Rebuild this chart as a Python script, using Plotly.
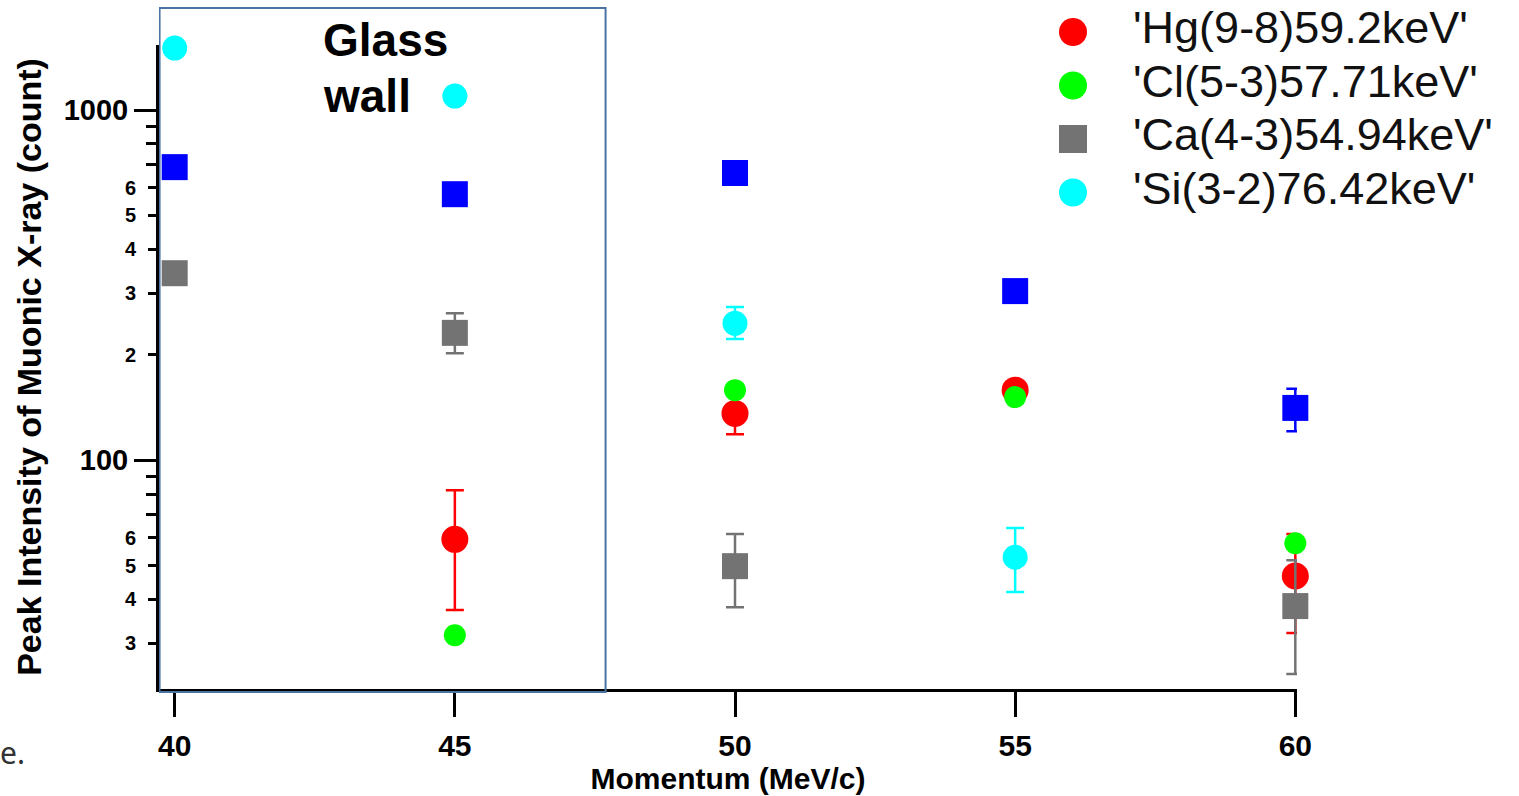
import math
import plotly.graph_objects as go

# ---- data -------------------------------------------------------------
momentum = [40, 45, 50, 55, 60]

# blue squares (series without a visible legend entry)
blue_x = [40, 45, 50, 55, 60]
blue_y = [687, 575, 661, 304, 141]
blue_err_plus = [0, 0, 0, 0, 19]
blue_err_minus = [0, 0, 0, 0, 20]

hg_name = "'Hg(9-8)59.2keV'"
hg_x = [45, 50, 55, 60]
hg_y = [59.4, 136, 158.5, 46.7]
hg_err_plus = [22.6, 19, 0, 14.8]
hg_err_minus = [22.1, 17.4, 0, 14.6]

cl_name = "'Cl(5-3)57.71keV'"
cl_x = [45, 50, 55, 60]
cl_y = [31.6, 158.5, 151.4, 57.9]

ca_name = "'Ca(4-3)54.94keV'"
ca_x = [40, 45, 50, 60]
ca_y = [342, 231, 49.8, 38.3]
ca_err_plus = [0, 32, 11.7, 13.5]
ca_err_minus = [0, 29, 11.8, 13.8]

si_name = "'Si(3-2)76.42keV'"
si_x = [40, 45, 50, 55]
si_y = [1503, 1096, 246, 52.8]
si_err_plus = [0, 0, 28, 11.2]
si_err_minus = [0, 0, 24, 10.8]

# y tick marks
major_ticks = [100, 1000]
major_labels = ["100", "1000"]
small_ticks = [30, 40, 50, 60, 200, 300, 400, 500, 600]
small_labels = ["3", "4", "5", "6", "2", "3", "4", "5", "6"]
unlabeled_ticks = [70, 80, 90, 700, 800, 900]

legend_names = [hg_name, cl_name, ca_name, si_name]
legend_colors = ["#ff0000", "#00ff00", "#737373", "#00ffff"]
legend_symbols = ["circle", "circle", "square", "circle"]

# ---- geometry & styling -----------------------------------------------
FONT = "Liberation Sans, Arial, sans-serif"
BLUE, RED, GREEN, GRAY, CYAN = "#0000ff", "#ff0000", "#00ff00", "#737373", "#00ffff"
Y_RANGE = [math.log10(22.2), math.log10(1534)]
X_RANGE = [39.72, 60.03]

W, H = 1519, 796
M_LEFT, M_BOTTOM = 159, 107             # paper area spans to the top/right edges
PAPER_W, PAPER_H = W - M_LEFT, H - M_BOTTOM
plot_top_px, plot_right_px = 45, 1297   # main axes box inside the paper area


def px_x(px):
    return (px - M_LEFT) / PAPER_W


def px_y(py):
    return (PAPER_H - py) / PAPER_H


main_xdom = [0, px_x(plot_right_px)]
main_ydom = [0, px_y(plot_top_px)]


def err(plus, minus, color):
    return dict(type="data", array=plus, arrayminus=minus, color=color,
                thickness=2.5, width=9, visible=True)


fig = go.Figure()

fig.add_trace(go.Scatter(
    x=blue_x, y=blue_y, mode="markers", showlegend=False, cliponaxis=False,
    marker=dict(symbol="square", size=26, color=BLUE),
    error_y=err(blue_err_plus, blue_err_minus, BLUE)))

fig.add_trace(go.Scatter(
    x=hg_x, y=hg_y, mode="markers", name=hg_name, showlegend=False, cliponaxis=False,
    marker=dict(symbol="circle", size=27, color=RED),
    error_y=err(hg_err_plus, hg_err_minus, RED)))

fig.add_trace(go.Scatter(
    x=cl_x, y=cl_y, mode="markers", name=cl_name, showlegend=False, cliponaxis=False,
    marker=dict(symbol="circle", size=22, color=GREEN)))

fig.add_trace(go.Scatter(
    x=ca_x, y=ca_y, mode="markers", name=ca_name, showlegend=False, cliponaxis=False,
    marker=dict(symbol="square", size=26, color=GRAY),
    error_y=err(ca_err_plus, ca_err_minus, GRAY)))

# Si series sits on the overlaid axis carrying the small tick labels
fig.add_trace(go.Scatter(
    x=si_x, y=si_y, mode="markers", name=si_name, showlegend=False, cliponaxis=False,
    yaxis="y2",
    marker=dict(symbol="circle", size=25, color=CYAN),
    error_y=err(si_err_plus, si_err_minus, CYAN)))

# ---- legend drawn on its own hidden axes (large symbols) --------------
rows = list(range(len(legend_names)))
row_px0, row_step = 32, 53.5           # first row centre and row spacing (px)
marker_px, text_px = 1073, 1133
leg_ydom = [px_y(260), 1.0]
leg_xdom = [px_x(1000), 1.0]
leg_yrange = [(260 - row_px0) / row_step, (0 - row_px0) / row_step]
step_x = text_px - marker_px
leg_xrange = [(1000 - marker_px) / step_x, (W - marker_px) / step_x]

fig.add_trace(go.Scatter(
    x=[0] * len(rows), y=rows, mode="markers", showlegend=False, cliponaxis=False,
    xaxis="x3", yaxis="y3", hoverinfo="skip",
    marker=dict(symbol=legend_symbols, color=legend_colors, size=28)))
fig.add_trace(go.Scatter(
    x=[1] * len(rows), y=rows, mode="text", text=legend_names, showlegend=False,
    cliponaxis=False, xaxis="x3", yaxis="y3", hoverinfo="skip",
    textposition="middle right",
    textfont=dict(family=FONT, size=45, color="#111111")))

axis_common = dict(showgrid=False, zeroline=False, ticks="outside",
                   tickcolor="black", tickwidth=3)

fig.update_layout(
    width=W, height=H,
    margin=dict(l=M_LEFT, r=0, t=0, b=M_BOTTOM, autoexpand=False),
    paper_bgcolor="white", plot_bgcolor="rgba(0,0,0,0)",
    font=dict(family=FONT, color="black"),
    xaxis=dict(
        **axis_common, domain=main_xdom, range=X_RANGE, tickvals=momentum,
        ticklen=25, ticklabelstandoff=3,
        showline=True, linewidth=3, linecolor="black",
        tickfont=dict(family=FONT, size=30, weight="bold"),
        title=dict(text="Momentum (MeV/c)", standoff=4,
                   font=dict(family=FONT, size=30, weight="bold")),
    ),
    yaxis=dict(
        **axis_common, domain=main_ydom, type="log", range=Y_RANGE,
        tickvals=major_ticks, ticktext=major_labels, ticklen=22,
        showline=True, linewidth=3, linecolor="black",
        tickfont=dict(family=FONT, size=29, weight="bold"),
        minor=dict(tickvals=unlabeled_ticks, ticks="outside", ticklen=10,
                   tickwidth=3, tickcolor="black", showgrid=False),
        title=dict(text="Peak Intensity of Muonic X-ray (count)", standoff=12,
                   font=dict(family=FONT, size=34, weight="bold")),
    ),
    yaxis2=dict(
        **axis_common, type="log", range=Y_RANGE, overlaying="y", side="left",
        anchor="x", tickvals=small_ticks, ticktext=small_labels, ticklen=10,
        ticklabelstandoff=8,
        showline=False, tickfont=dict(family=FONT, size=20, weight="bold"),
    ),
    xaxis3=dict(domain=leg_xdom, anchor="y3", range=leg_xrange, visible=False),
    yaxis3=dict(domain=leg_ydom, anchor="x3", range=leg_yrange, visible=False),
)

# Glass wall region
fig.add_shape(type="rect", xref="x", yref="paper",
              x0=39.73, x1=47.69, y0=px_y(692), y1=px_y(8),
              line=dict(color="#4a73a3", width=2), layer="above")

wall_font = dict(family=FONT, size=46, weight="bold", color="black")
fig.add_annotation(
    text="Glass", xref="x", yref="paper", x=42.62, y=px_y(40),
    xanchor="left", yanchor="middle", showarrow=False, font=wall_font)
fig.add_annotation(
    text="wall", xref="x", yref="paper", x=42.62, y=px_y(96),
    xanchor="left", yanchor="middle", showarrow=False, font=wall_font)

fig.add_annotation(
    text="e.", xref="paper", yref="paper", x=px_x(-2), y=px_y(752),
    xanchor="left", yanchor="middle", showarrow=False,
    font=dict(family="Noto Sans, DejaVu Sans, sans-serif", size=30, color="#333333"))

fig.write_html("out.html")
